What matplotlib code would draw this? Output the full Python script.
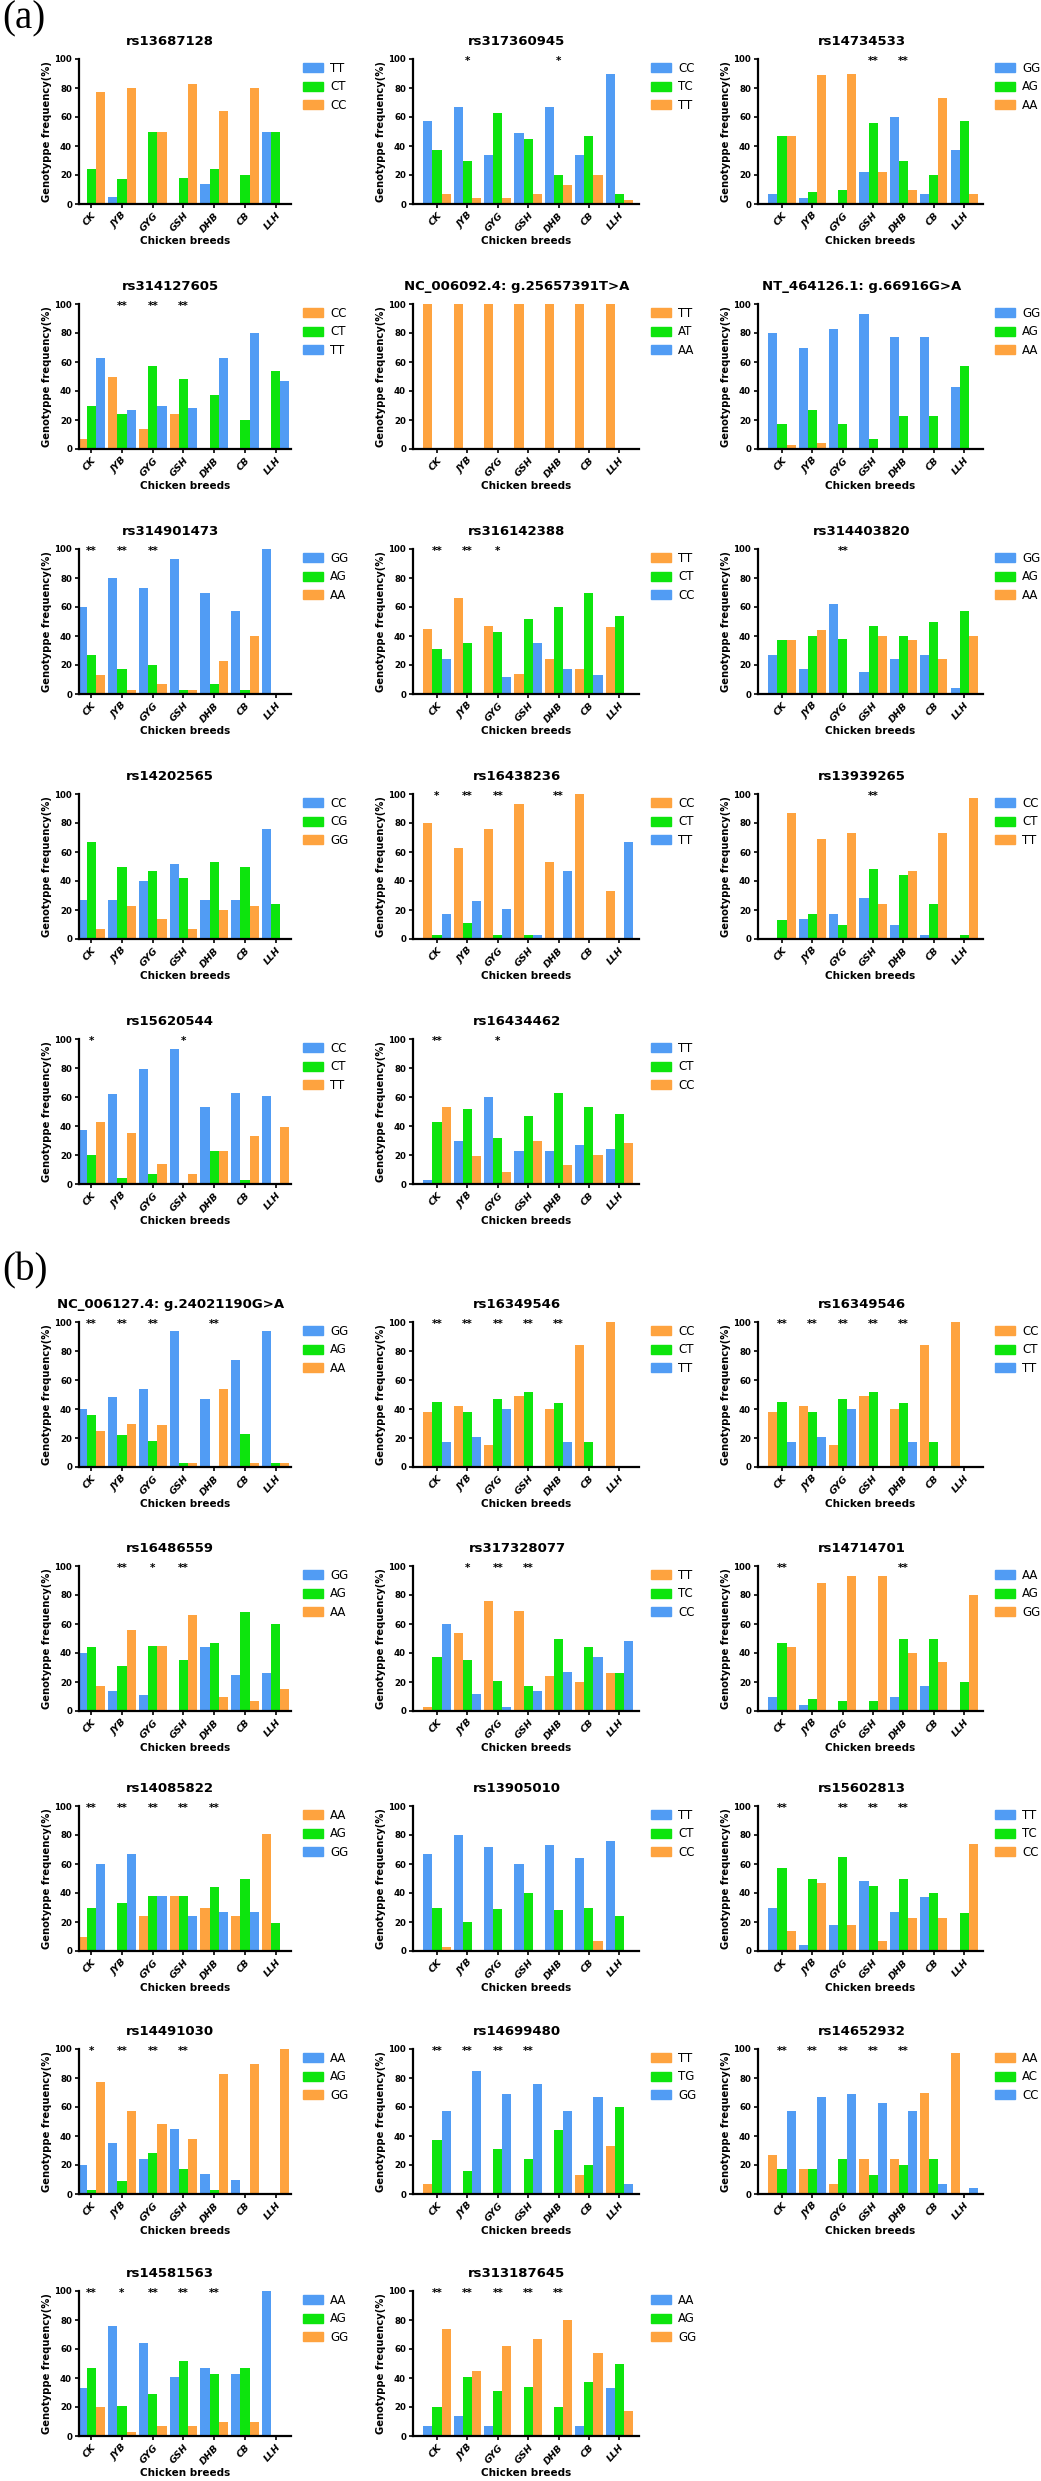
import numpy as np
import matplotlib.pyplot as plt
from matplotlib.patches import Patch

BREEDS = ["CK", "JYB", "GYG", "GSH", "DHB", "CB", "LLH"]

# ---- panel (a) ----
A_TITLES = ["rs13687128", "rs317360945", "rs14734533",
            "rs314127605", "NC_006092.4: g.25657391T>A", "NT_464126.1: g.66916G>A",
            "rs314901473", "rs316142388", "rs314403820",
            "rs14202565", "rs16438236", "rs13939265",
            "rs15620544", "rs16434462"]
A_GENOTYPES = [("TT", "CT", "CC"), ("CC", "TC", "TT"), ("GG", "AG", "AA"),
               ("CC", "CT", "TT"), ("TT", "AT", "AA"), ("GG", "AG", "AA"),
               ("GG", "AG", "AA"), ("TT", "CT", "CC"), ("GG", "AG", "AA"),
               ("CC", "CG", "GG"), ("CC", "CT", "TT"), ("CC", "CT", "TT"),
               ("CC", "CT", "TT"), ("TT", "CT", "CC")]
# genotype frequency (%), one row per genotype, columns follow BREEDS
A_FREQ = [
    [[0, 5, 0, 0, 14, 0, 50], [24, 17, 50, 18, 24, 20, 50], [77, 80, 50, 83, 64, 80, 0]],
    [[57, 67, 34, 49, 67, 34, 90], [37, 30, 63, 45, 20, 47, 7], [7, 4, 4, 7, 13, 20, 3]],
    [[7, 4, 0, 22, 60, 7, 37], [47, 8, 10, 56, 30, 20, 57], [47, 89, 90, 22, 10, 73, 7]],
    [[7, 50, 14, 24, 0, 0, 0], [30, 24, 57, 48, 37, 20, 54], [63, 27, 30, 28, 63, 80, 47]],
    [[100, 100, 100, 100, 100, 100, 100], [0, 0, 0, 0, 0, 0, 0], [0, 0, 0, 0, 0, 0, 0]],
    [[80, 70, 83, 93, 77, 77, 43], [17, 27, 17, 7, 23, 23, 57], [3, 4, 0, 0, 0, 0, 0]],
    [[60, 80, 73, 93, 70, 57, 100], [27, 17, 20, 3, 7, 3, 0], [13, 3, 7, 3, 23, 40, 0]],
    [[45, 66, 47, 14, 24, 17, 46], [31, 35, 43, 52, 60, 70, 54], [24, 0, 12, 35, 17, 13, 0]],
    [[27, 17, 62, 15, 24, 27, 4], [37, 40, 38, 47, 40, 50, 57], [37, 44, 0, 40, 37, 24, 40]],
    [[27, 27, 40, 52, 27, 27, 76], [67, 50, 47, 42, 53, 50, 24], [7, 23, 14, 7, 20, 23, 0]],
    [[80, 63, 76, 93, 53, 100, 33], [3, 11, 3, 3, 0, 0, 0], [17, 26, 21, 3, 47, 0, 67]],
    [[0, 14, 17, 28, 10, 3, 0], [13, 17, 10, 48, 44, 24, 3], [87, 69, 73, 24, 47, 73, 97]],
    [[37, 62, 79, 93, 53, 63, 61], [20, 4, 7, 0, 23, 3, 0], [43, 35, 14, 7, 23, 33, 39]],
    [[3, 30, 60, 23, 23, 27, 24], [43, 52, 32, 47, 63, 53, 48], [53, 19, 8, 30, 13, 20, 28]],
]
A_STARS = [
    ["", "", "", "", "", "", ""],
    ["", "*", "", "", "*", "", ""],
    ["", "", "", "**", "**", "", ""],
    ["", "**", "**", "**", "", "", ""],
    ["", "", "", "", "", "", ""],
    ["", "", "", "", "", "", ""],
    ["**", "**", "**", "", "", "", ""],
    ["**", "**", "*", "", "", "", ""],
    ["", "", "**", "", "", "", ""],
    ["", "", "", "", "", "", ""],
    ["*", "**", "**", "", "**", "", ""],
    ["", "", "", "**", "", "", ""],
    ["*", "", "", "*", "", "", ""],
    ["**", "", "*", "", "", "", ""],
]

# ---- panel (b) ----
B_TITLES = ["NC_006127.4: g.24021190G>A", "rs16349546", "rs16349546",
            "rs16486559", "rs317328077", "rs14714701",
            "rs14085822", "rs13905010", "rs15602813",
            "rs14491030", "rs14699480", "rs14652932",
            "rs14581563", "rs313187645"]
B_GENOTYPES = [("GG", "AG", "AA"), ("CC", "CT", "TT"), ("CC", "CT", "TT"),
               ("GG", "AG", "AA"), ("TT", "TC", "CC"), ("AA", "AG", "GG"),
               ("AA", "AG", "GG"), ("TT", "CT", "CC"), ("TT", "TC", "CC"),
               ("AA", "AG", "GG"), ("TT", "TG", "GG"), ("AA", "AC", "CC"),
               ("AA", "AG", "GG"), ("AA", "AG", "GG")]
B_FREQ = [
    [[40, 48, 54, 94, 47, 74, 94], [36, 22, 18, 3, 0, 23, 3], [25, 30, 29, 3, 54, 3, 3]],
    [[38, 42, 15, 49, 40, 84, 100], [45, 38, 47, 52, 44, 17, 0], [17, 21, 40, 0, 17, 0, 0]],
    [[38, 42, 15, 49, 40, 84, 100], [45, 38, 47, 52, 44, 17, 0], [17, 21, 40, 0, 17, 0, 0]],
    [[40, 14, 11, 0, 44, 25, 26], [44, 31, 45, 35, 47, 68, 60], [17, 56, 45, 66, 10, 7, 15]],
    [[3, 54, 76, 69, 24, 20, 26], [37, 35, 21, 17, 50, 44, 26], [60, 12, 3, 14, 27, 37, 48]],
    [[10, 4, 0, 0, 10, 17, 0], [47, 8, 7, 7, 50, 50, 20], [44, 88, 93, 93, 40, 34, 80]],
    [[10, 0, 24, 38, 30, 24, 81], [30, 33, 38, 38, 44, 50, 19], [60, 67, 38, 24, 27, 27, 0]],
    [[67, 80, 72, 60, 73, 64, 76], [30, 20, 29, 40, 28, 30, 24], [3, 0, 0, 0, 0, 7, 0]],
    [[30, 4, 18, 48, 27, 37, 0], [57, 50, 65, 45, 50, 40, 26], [14, 47, 18, 7, 23, 23, 74]],
    [[20, 35, 24, 45, 14, 10, 0], [3, 9, 28, 17, 3, 0, 0], [77, 57, 48, 38, 83, 90, 100]],
    [[7, 0, 0, 0, 0, 13, 33], [37, 16, 31, 24, 44, 20, 60], [57, 85, 69, 76, 57, 67, 7]],
    [[27, 17, 7, 24, 24, 70, 97], [17, 17, 24, 13, 20, 24, 0], [57, 67, 69, 63, 57, 7, 4]],
    [[33, 76, 64, 41, 47, 43, 100], [47, 21, 29, 52, 43, 47, 0], [20, 3, 7, 7, 10, 10, 0]],
    [[7, 14, 7, 0, 0, 7, 33], [20, 41, 31, 34, 20, 37, 50], [74, 45, 62, 67, 80, 57, 17]],
]
B_STARS = [
    ["**", "**", "**", "", "**", "", ""],
    ["**", "**", "**", "**", "**", "", ""],
    ["**", "**", "**", "**", "**", "", ""],
    ["", "**", "*", "**", "", "", ""],
    ["", "*", "**", "**", "", "", ""],
    ["**", "", "", "", "**", "", ""],
    ["**", "**", "**", "**", "**", "", ""],
    ["", "", "", "", "", "", ""],
    ["**", "", "**", "**", "**", "", ""],
    ["*", "**", "**", "**", "", "", ""],
    ["**", "**", "**", "**", "", "", ""],
    ["**", "**", "**", "**", "**", "", ""],
    ["**", "*", "**", "**", "**", "", ""],
    ["**", "**", "**", "**", "**", "", ""],
]

# ---- style ----
PAL = {"b": "#519cf4", "g": "#0de40d", "o": "#fea33f"}
A_COLORS = ["bgo", "bgo", "bgo", "ogb", "ogb", "bgo", "bgo", "ogb", "bgo",
            "bgo", "ogb", "bgo", "bgo", "bgo"]
B_COLORS = ["bgo", "ogb", "ogb", "bgo", "ogb", "bgo", "ogb", "bgo", "bgo",
            "bgo", "ogb", "ogb", "bgo", "bgo"]

W, H = 1041, 2481
COL_X = [(79, 291), (413, 639), (758, 983)]
XLIMS = [(-0.4, 6.5), (-0.79, 6.65), (-0.79, 6.62)]
ROWS_A = [59, 304, 549, 794, 1039]
ROWS_B = [1322, 1566, 1806, 2049, 2291]
AX_H = 145
BW = 0.3

fig = plt.figure(figsize=(W / 100, H / 100), dpi=100)


def draw_panel(titles, genos, freqs, stars, colors, rows):
    x = np.arange(len(BREEDS))
    for i, title in enumerate(titles):
        r, c = divmod(i, 3)
        x0, x1 = COL_X[c]
        top = rows[r]
        ax = fig.add_axes([x0 / W, 1 - (top + AX_H) / H, (x1 - x0) / W, AX_H / H])
        for k in range(3):
            ax.bar(x + (k - 1) * BW, freqs[i][k], BW, color=PAL[colors[i][k]], linewidth=0)
        ax.set_xlim(*XLIMS[c]); ax.set_ylim(0, 100)
        ax.set_yticks(range(0, 101, 20))
        ax.set_xticks(x)
        ax.set_xticklabels(BREEDS, rotation=48, ha="right", va="top", rotation_mode="anchor",
                           fontsize=6.8, fontweight="bold", fontstyle="italic")
        for t in ax.get_yticklabels():
            t.set_fontsize(6.2); t.set_fontweight("bold")
        for s in ("top", "right"):
            ax.spines[s].set_visible(False)
        for s in ("left", "bottom"):
            ax.spines[s].set_linewidth(1.6)
        ax.tick_params(axis="both", length=3, width=1.2, pad=2)
        ax.set_ylabel("Genotyppe frequency(%)", fontsize=7.2, fontweight="bold", labelpad=2)
        ax.set_xlabel("Chicken breeds", fontsize=7.5, fontweight="bold", labelpad=1)
        tx = 0.43 if c == 0 else 0.46
        ax.set_title(title, fontsize=9.5, fontweight="bold", pad=10, x=tx)
        for j, s in enumerate(stars[i]):
            if s:
                ax.text(j, 98.5, s, ha="center", va="center", fontsize=7.5,
                        fontweight="bold", clip_on=False)
        handles = [Patch(color=PAL[colors[i][k]], label=genos[i][k]) for k in range(3)]
        ax.legend(handles=handles, loc="upper left",
                  bbox_to_anchor=((x1 + 12) / W, 1 - (top + 3) / H),
                  bbox_transform=fig.transFigure, frameon=False, fontsize=8.5,
                  handlelength=1.7, handleheight=0.8, labelspacing=0.45,
                  handletextpad=0.6, borderpad=0, borderaxespad=0)


draw_panel(A_TITLES, A_GENOTYPES, A_FREQ, A_STARS, A_COLORS, ROWS_A)
draw_panel(B_TITLES, B_GENOTYPES, B_FREQ, B_STARS, B_COLORS, ROWS_B)

fig.text(2 / W, 1 - 0 / H, "(a)", fontsize=28, family="Liberation Serif", va="top")
fig.text(2 / W, 1 - 1252 / H, "(b)", fontsize=28, family="Liberation Serif", va="top")

fig.savefig("out.png", dpi=100)
